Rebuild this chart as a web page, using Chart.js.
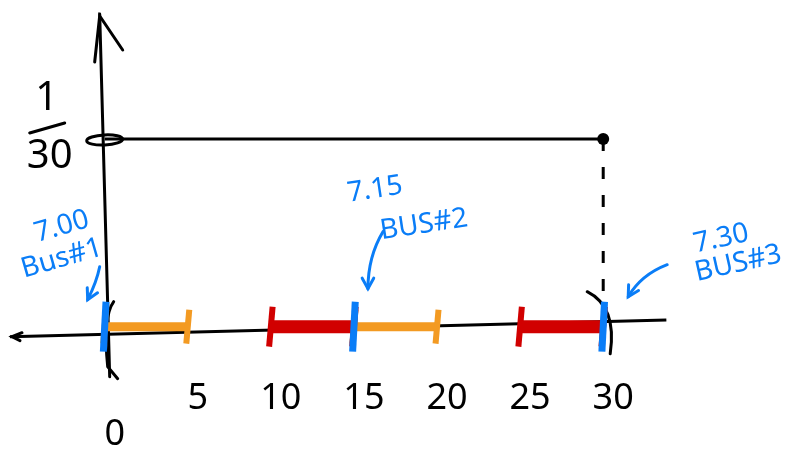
<!DOCTYPE html>
<html>
<head>
<meta charset="utf-8">
<script src="https://cdn.jsdelivr.net/npm/chart.js@4.4.1/dist/chart.umd.min.js"></script>
<style>
html, body { margin: 0; background: #fff; }
#wrap { width: 786px; height: 454px; }
</style>
</head>
<body>
<div id="wrap"><canvas id="sketch"></canvas></div>
<script>
// 데이터
const tickValues = [0, 5, 10, 15, 20, 25, 30];
const tickLabels = ['0', '5', '10', '15', '20', '25', '30'];
const densityX = [0, 30];
const densityY = [1 / 30, 1 / 30];
const orangeStarts = [0, 15];
const orangeEnds = [5, 20];
const redStarts = [10, 25];
const redEnds = [15, 30];
const busMinutes = [0, 15, 30];
const busTimes = ['7.00', '7.15', '7.30'];
const busNames = ['Bus#1', 'BUS#2', 'BUS#3'];
const densityTop = '1';
const densityBottom = '30';

const BLACK = '#000000';
const ORANGE = '#f39a22';
const RED = '#d10000';
const BLUE = '#0a7df7';
const FONT = '"Noto Sans", sans-serif';

// 구간 -> 선 데이터 (구간 사이에는 빈 점)
function intervals(starts, ends) {
	let out = [];
	for (let i = 0; i < starts.length; i++) {
		out.push({x: starts[i], y: 0}, {x: ends[i], y: 0}, {x: ends[i], y: null});
	}
	return out;
}

/**
 * 축, 화살표, 글자 그리기
 */
const sketchPlugin = {
	id: 'sketch',
	beforeDatasetsDraw(chart) {
		const ctx = chart.ctx;
		const xs = chart.scales.x, ys = chart.scales.y;
		const px = v => xs.getPixelForValue(v);
		const py = v => ys.getPixelForValue(v);
		ctx.save();
		ctx.strokeStyle = BLACK;
		ctx.lineCap = 'round';
		ctx.lineWidth = 3;
		// y 축
		ctx.beginPath();
		ctx.moveTo(px(0) + 5, py(0) + 50);
		ctx.lineTo(px(0) - 5, 14);
		ctx.stroke();
		ctx.beginPath();
		ctx.moveTo(px(0) - 10, 62);
		ctx.lineTo(px(0) - 5, 16);
		ctx.lineTo(px(0) + 18, 50);
		ctx.stroke();
		// x 축 왼쪽 화살표
		ctx.beginPath();
		ctx.moveTo(xs.left + 22, py(0) + 6);
		ctx.lineTo(xs.left + 12, py(0) + 10);
		ctx.lineTo(xs.left + 20, py(0) + 14);
		ctx.stroke();
		// 1/30 눈금 고리
		ctx.beginPath();
		ctx.ellipse(px(0), py(1 / 30) + 1, 18, 5, -0.05, 0, Math.PI * 2);
		ctx.stroke();
		// 0, 30 괄호
		ctx.beginPath();
		ctx.moveTo(px(0) + 9, py(0) - 25);
		ctx.quadraticCurveTo(px(0) - 2, py(0) - 10, px(0) + 3, py(0) + 40);
		ctx.lineTo(px(0) + 13, py(0) + 52);
		ctx.stroke();
		ctx.beginPath();
		ctx.moveTo(px(30) - 16, py(0) - 35);
		ctx.quadraticCurveTo(px(30) + 14, py(0) - 20, px(30) + 7, py(0) + 27);
		ctx.stroke();
		ctx.restore();
	},
	afterDatasetsDraw(chart) {
		const ctx = chart.ctx;
		const xs = chart.scales.x, ys = chart.scales.y;
		const px = v => xs.getPixelForValue(v);
		const py = v => ys.getPixelForValue(v);
		ctx.save();
		ctx.textAlign = 'center';
		ctx.textBaseline = 'middle';

		// x 눈금 글자
		ctx.fillStyle = BLACK;
		ctx.font = '36px ' + FONT;
		tickValues.forEach((t, i) => {
			let dy = t === 0 ? 108 : 72;
			ctx.fillText(tickLabels[i], px(t) + 10, py(0) + dy);
		});

		// 1/30
		ctx.font = '40px ' + FONT;
		ctx.fillText(densityTop, px(0) - 58, py(1 / 30) - 40);
		ctx.fillText(densityBottom, px(0) - 55, py(1 / 30) + 18);
		ctx.strokeStyle = BLACK;
		ctx.lineWidth = 3;
		ctx.lineCap = 'round';
		ctx.beginPath();
		ctx.moveTo(px(0) - 75, py(1 / 30) - 6);
		ctx.lineTo(px(0) - 40, py(1 / 30) - 16);
		ctx.stroke();

		// 버스 라벨
		const labelPos = [
			{tx: -43, ty: -100, nx: -43, ny: -68, rot: -0.28, arrow: [[-5, -60], [-8, -45], [-17, -27]]},
			{tx: 21, ty: -137, nx: 70, ny: -102, rot: -0.15, arrow: [[29, -95], [14, -70], [14, -38]]},
			{tx: 118, ty: -88, nx: 135, ny: -63, rot: -0.22, arrow: [[64, -62], [38, -52], [25, -30]]}
		];
		ctx.fillStyle = BLUE;
		ctx.strokeStyle = BLUE;
		ctx.font = '28px ' + FONT;
		busMinutes.forEach((m, i) => {
			const p = labelPos[i];
			const bx = px(m), by = py(0);
			ctx.save();
			ctx.translate(bx + p.tx, by + p.ty);
			ctx.rotate(p.rot);
			ctx.fillText(busTimes[i], 0, 0);
			ctx.restore();
			ctx.save();
			ctx.translate(bx + p.nx, by + p.ny);
			ctx.rotate(p.rot);
			ctx.fillText(busNames[i], 0, 0);
			ctx.restore();
			// 화살표
			const a = p.arrow;
			ctx.lineWidth = 3;
			ctx.beginPath();
			ctx.moveTo(bx + a[0][0], by + a[0][1]);
			ctx.quadraticCurveTo(bx + a[1][0], by + a[1][1], bx + a[2][0], by + a[2][1]);
			ctx.stroke();
			const ex = bx + a[2][0], ey = by + a[2][1];
			const ang = Math.atan2(a[2][1] - a[1][1], a[2][0] - a[1][0]);
			ctx.beginPath();
			ctx.moveTo(ex - 12 * Math.cos(ang - 0.5), ey - 12 * Math.sin(ang - 0.5));
			ctx.lineTo(ex, ey);
			ctx.lineTo(ex - 12 * Math.cos(ang + 0.5), ey - 12 * Math.sin(ang + 0.5));
			ctx.stroke();
		});
		ctx.restore();
	}
};

const config = {
	type: 'scatter',
	data: {
		datasets: [
			{
				label: 'bus',
				data: busMinutes.map(m => ({x: m, y: 0})),
				showLine: false,
				pointStyle: 'line',
				rotation: 93,
				radius: 25,
				pointBorderWidth: 7,
				borderColor: BLUE,
				backgroundColor: BLUE
			},
			{
				label: 'red',
				data: intervals(redStarts, redEnds),
				showLine: true,
				spanGaps: false,
				borderColor: RED,
				backgroundColor: RED,
				borderWidth: 13,
				pointStyle: 'line',
				rotation: 95,
				radius: 20,
				pointBorderWidth: 6
			},
			{
				label: 'orange',
				data: intervals(orangeStarts, orangeEnds),
				showLine: true,
				spanGaps: false,
				borderColor: ORANGE,
				backgroundColor: ORANGE,
				borderWidth: 9,
				pointStyle: 'line',
				rotation: 95,
				radius: 17,
				pointBorderWidth: 6
			},
			{
				label: 'density',
				data: densityX.map((x, i) => ({x: x, y: densityY[i]})),
				showLine: true,
				borderColor: BLACK,
				backgroundColor: BLACK,
				borderWidth: 3,
				pointRadius: [0, 6],
				pointBorderWidth: 0
			},
			{
				label: 'drop',
				data: [{x: densityX[1], y: densityY[1]}, {x: densityX[1], y: 0.004}],
				showLine: true,
				borderColor: BLACK,
				borderWidth: 3,
				borderDash: [12, 16],
				pointRadius: 0
			},
			{
				label: 'axis',
				data: [{x: -5.7, y: -0.0018}, {x: 33.8, y: 0.0012}],
				showLine: true,
				borderColor: BLACK,
				borderWidth: 3,
				pointRadius: 0
			}
		]
	},
	options: {
		responsive: true,
		maintainAspectRatio: false,
		animation: { duration: 0 },
		layout: { padding: 0, autoPadding: false },
		plugins: {
			legend: { display: false },
			tooltip: { enabled: false }
		},
		scales: {
			x: { type: 'linear', display: false, min: -6.3, max: 41 },
			y: { type: 'linear', display: false, min: -0.0226, max: 0.058 }
		}
	},
	plugins: [sketchPlugin]
};

let sketchChart = new Chart(document.getElementById('sketch'), config);
</script>
</body>
</html>
